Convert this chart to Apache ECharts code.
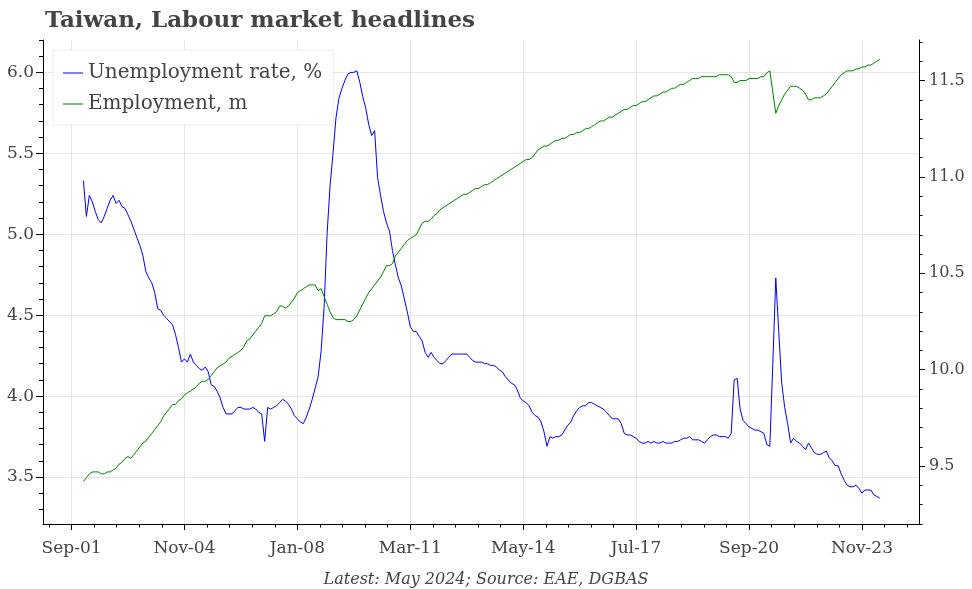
<!DOCTYPE html>
<html>
<head>
<meta charset="utf-8">
<script src="https://cdn.jsdelivr.net/npm/echarts@6.0.0/dist/echarts.min.js"></script>
<style>html,body{margin:0;padding:0;background:#fff}#c{width:972px;height:589px}</style>
</head>
<body>
<div id="c"></div>
<script>
// ---------------- data ----------------
const chartTitle = 'Taiwan, Labour market headlines';
const footnote = 'Latest: May 2024; Source: EAE, DGBAS';
const seriesNames = ['Unemployment rate, %', 'Employment, m'];
const firstMonth = 'Jan-02'; // monthly data, Jan 2002 .. May 2024

const unemployment = [
  5.33, 5.11, 5.24, 5.20, 5.14, 5.09, 5.07, 5.11, 5.16, 5.21,
  5.24, 5.19, 5.21, 5.17, 5.16, 5.12, 5.08, 5.03, 4.98, 4.93,
  4.87, 4.77, 4.73, 4.70, 4.64, 4.54, 4.53, 4.50, 4.48, 4.46,
  4.44, 4.38, 4.30, 4.21, 4.23, 4.21, 4.26, 4.21, 4.19, 4.17,
  4.16, 4.18, 4.15, 4.07, 4.06, 4.03, 3.99, 3.93, 3.89, 3.89,
  3.89, 3.91, 3.93, 3.93, 3.92, 3.92, 3.92, 3.93, 3.92, 3.90,
  3.89, 3.72, 3.93, 3.92, 3.93, 3.94, 3.96, 3.98, 3.97, 3.95,
  3.92, 3.88, 3.86, 3.84, 3.83, 3.87, 3.92, 3.98, 4.05, 4.12,
  4.28, 4.55, 5.00, 5.30, 5.50, 5.72, 5.84, 5.90, 5.95, 5.99,
  6.00, 6.00, 6.01, 5.94, 5.85, 5.78, 5.68, 5.61, 5.64, 5.35,
  5.24, 5.14, 5.07, 5.02, 4.90, 4.81, 4.73, 4.68, 4.60, 4.52,
  4.43, 4.40, 4.40, 4.37, 4.34, 4.27, 4.24, 4.27, 4.24, 4.22,
  4.20, 4.20, 4.22, 4.24, 4.26, 4.26, 4.26, 4.26, 4.26, 4.26,
  4.24, 4.22, 4.21, 4.21, 4.21, 4.20, 4.20, 4.19, 4.19, 4.18,
  4.16, 4.15, 4.12, 4.10, 4.08, 4.07, 4.04, 3.99, 3.97, 3.96,
  3.94, 3.90, 3.88, 3.87, 3.84, 3.78, 3.69, 3.75, 3.74, 3.75,
  3.75, 3.76, 3.79, 3.82, 3.84, 3.88, 3.91, 3.93, 3.94, 3.94,
  3.96, 3.96, 3.95, 3.94, 3.93, 3.92, 3.90, 3.88, 3.86, 3.86,
  3.86, 3.83, 3.77, 3.76, 3.76, 3.75, 3.74, 3.72, 3.71, 3.71,
  3.72, 3.71, 3.72, 3.71, 3.71, 3.72, 3.71, 3.71, 3.71, 3.72,
  3.72, 3.73, 3.74, 3.74, 3.75, 3.73, 3.73, 3.73, 3.72, 3.71,
  3.73, 3.75, 3.76, 3.76, 3.75, 3.75, 3.75, 3.74, 3.77, 4.10,
  4.11, 3.92, 3.85, 3.83, 3.81, 3.80, 3.79, 3.79, 3.78, 3.77,
  3.70, 3.69, 4.20, 4.73, 4.40, 4.08, 3.93, 3.83, 3.71, 3.74,
  3.72, 3.71, 3.69, 3.67, 3.71, 3.68, 3.65, 3.64, 3.64, 3.65,
  3.66, 3.62, 3.60, 3.57, 3.57, 3.52, 3.48, 3.45, 3.44, 3.44,
  3.45, 3.43, 3.40, 3.42, 3.42, 3.42, 3.39, 3.38, 3.37
];

const employment = [
  9.42, 9.44, 9.46, 9.47, 9.47, 9.47, 9.46, 9.46, 9.47, 9.47,
  9.48, 9.49, 9.51, 9.52, 9.54, 9.55, 9.54, 9.56, 9.58, 9.60,
  9.62, 9.63, 9.65, 9.67, 9.69, 9.71, 9.73, 9.76, 9.78, 9.80,
  9.82, 9.82, 9.84, 9.85, 9.87, 9.88, 9.89, 9.90, 9.91, 9.93,
  9.94, 9.94, 9.95, 9.97, 9.99, 10.01, 10.02, 10.03, 10.04, 10.06,
  10.07, 10.08, 10.09, 10.10, 10.12, 10.15, 10.16, 10.18, 10.20, 10.22,
  10.24, 10.28, 10.28, 10.28, 10.29, 10.30, 10.33, 10.33, 10.32, 10.33,
  10.35, 10.37, 10.40, 10.41, 10.42, 10.43, 10.44, 10.44, 10.44, 10.41,
  10.42, 10.38, 10.34, 10.30, 10.27, 10.26, 10.26, 10.26, 10.26, 10.25,
  10.25, 10.26, 10.28, 10.31, 10.34, 10.37, 10.40, 10.42, 10.44, 10.46,
  10.48, 10.51, 10.54, 10.54, 10.55, 10.59, 10.61, 10.63, 10.65, 10.67,
  10.68, 10.69, 10.70, 10.73, 10.76, 10.77, 10.77, 10.78, 10.80, 10.81,
  10.83, 10.84, 10.85, 10.86, 10.87, 10.88, 10.89, 10.90, 10.91, 10.91,
  10.92, 10.93, 10.94, 10.94, 10.95, 10.96, 10.96, 10.97, 10.98, 10.99,
  11.00, 11.01, 11.02, 11.03, 11.04, 11.05, 11.06, 11.07, 11.08, 11.09,
  11.09, 11.10, 11.12, 11.14, 11.15, 11.16, 11.16, 11.17, 11.18, 11.19,
  11.19, 11.20, 11.20, 11.21, 11.22, 11.22, 11.23, 11.23, 11.24, 11.25,
  11.25, 11.26, 11.27, 11.28, 11.29, 11.29, 11.30, 11.31, 11.31, 11.32,
  11.33, 11.34, 11.35, 11.35, 11.36, 11.37, 11.37, 11.38, 11.39, 11.39,
  11.40, 11.41, 11.42, 11.42, 11.43, 11.44, 11.44, 11.45, 11.46, 11.46,
  11.47, 11.48, 11.48, 11.49, 11.50, 11.51, 11.51, 11.51, 11.52, 11.52,
  11.52, 11.52, 11.52, 11.52, 11.53, 11.53, 11.53, 11.53, 11.52, 11.49,
  11.49, 11.50, 11.50, 11.50, 11.51, 11.51, 11.51, 11.51, 11.52, 11.52,
  11.54, 11.55, 11.44, 11.33, 11.37, 11.40, 11.43, 11.45, 11.47, 11.47,
  11.47, 11.46, 11.45, 11.43, 11.40, 11.40, 11.41, 11.41, 11.41, 11.42,
  11.43, 11.45, 11.47, 11.49, 11.51, 11.53, 11.54, 11.55, 11.55, 11.55,
  11.56, 11.56, 11.57, 11.57, 11.58, 11.58, 11.59, 11.60, 11.61
];

const xTickLabels = ['Sep-01', 'Nov-04', 'Jan-08', 'Mar-11', 'May-14', 'Jul-17', 'Sep-20', 'Nov-23'];
const leftTickLabels = ['3.5', '4.0', '4.5', '5.0', '5.5', '6.0'];
const rightTickLabels = ['9.5', '10.0', '10.5', '11.0', '11.5'];

// ---------------- helpers ----------------
const MONTHS = ['Jan','Feb','Mar','Apr','May','Jun','Jul','Aug','Sep','Oct','Nov','Dec'];
function labelToIndex(s) { // months since Jan 2000
  const p = s.split('-');
  return parseInt(p[1], 10) * 12 + MONTHS.indexOf(p[0]);
}
function indexToLabel(v) {
  const m = Math.round(v);
  return MONTHS[((m % 12) + 12) % 12] + '-' + String(Math.floor(m / 12)).padStart(2, '0');
}
const start = labelToIndex(firstMonth);
const xMin = 10.4, xMax = 305.2;
const yLMin = 3.21, yLMax = 6.2;
const yRMin = 9.2, yRMax = 11.71;

const xMajor = xTickLabels.map(labelToIndex);
const xStep = (xMajor[1] - xMajor[0]) / 5;
const xMinor = [];
for (let k = -10; k <= 60; k++) {
  if (k % 5 === 0) continue;
  const v = +(xMajor[0] + k * xStep).toFixed(3);
  if (v > xMin && v < xMax) xMinor.push(v);
}
const yLMajor = leftTickLabels.map(Number);
const yRMajor = rightTickLabels.map(Number);
function minors(lo, hi) {
  const out = [];
  for (let k = Math.ceil(lo * 10); k <= Math.floor(hi * 10); k++) {
    if (k % 5 !== 0) out.push(k / 10);
  }
  return out;
}
const yLMinor = minors(yLMin, yLMax);
const yRMinor = minors(yRMin, yRMax);

const FONT = 'DejaVu Serif';
const TXT = '#444444';
const GRID = '#e6e6e6';
const AX = '#000000';

function mainAxis(common, majors, tickLen, labelMargin, fmt, split, fs) {
  return Object.assign({}, common, {
    axisLine: { show: true, onZero: false, lineStyle: { color: AX, width: 1 } },
    axisTick: { show: true, customValues: majors, length: tickLen, lineStyle: { color: AX, width: 1 } },
    axisLabel: { show: true, customValues: majors, formatter: fmt, margin: labelMargin,
                 fontFamily: FONT, fontSize: fs, color: TXT, showMinLabel: true, showMaxLabel: true },
    splitLine: { show: split, lineStyle: { color: GRID, width: 1 } },
    minorTick: { show: false }, minorSplitLine: { show: false }
  });
}
function minorAxis(common, mins, tickLen) {
  return Object.assign({}, common, {
    axisLine: { show: false, onZero: false },
    axisTick: { show: true, customValues: mins, length: tickLen, lineStyle: { color: AX, width: 1 } },
    axisLabel: { show: false },
    splitLine: { show: false }
  });
}

const xCommon = { type: 'value', position: 'bottom', min: xMin, max: xMax, gridIndex: 0 };
const yLCommon = { type: 'value', position: 'left', min: yLMin, max: yLMax, gridIndex: 0 };
const yRCommon = { type: 'value', position: 'right', min: yRMin, max: yRMax, gridIndex: 0 };

const chart = echarts.init(document.getElementById('c'), null, { renderer: 'canvas' });
chart.setOption({
  animation: false,
  backgroundColor: '#ffffff',
  title: [
    { text: chartTitle, left: 40, top: 5,
      textStyle: { fontFamily: FONT, fontWeight: 'bold', fontSize: 23, color: TXT } },
    { text: footnote, left: 'center', top: 567,
      textStyle: { fontFamily: FONT, fontStyle: 'italic', fontWeight: 'normal', fontSize: 16, color: TXT } }
  ],
  legend: {
    data: seriesNames,
    orient: 'vertical',
    left: 53, top: 50,
    padding: [12, 11, 10, 10],
    itemGap: 9,
    itemWidth: 20, itemHeight: 1,
    icon: 'rect',
    backgroundColor: '#ffffff',
    borderColor: '#ececec', borderWidth: 1,
    textStyle: { fontFamily: FONT, fontSize: 20, color: TXT, lineHeight: 22 }
  },
  grid: { left: 43, right: 53, top: 40, bottom: 65, containLabel: false },
  xAxis: [
    mainAxis(xCommon, xMajor, 6, 16, indexToLabel, true, 17),
    minorAxis(xCommon, xMinor, 3.5)
  ],
  yAxis: [
    mainAxis(yLCommon, yLMajor, 7, 9, v => v.toFixed(1), true, 17),
    minorAxis(yLCommon, yLMinor, 4),
    mainAxis(yRCommon, yRMajor, 6, 10, v => v.toFixed(1), false, 16),
    minorAxis(yRCommon, yRMinor, 3.5)
  ],
  series: [
    { name: seriesNames[0], type: 'line', xAxisIndex: 0, yAxisIndex: 0,
      data: unemployment.map((v, i) => [start + i, v]),
      showSymbol: false, symbol: 'none', smooth: false,
      lineStyle: { color: '#0000ff', width: 1 }, itemStyle: { color: '#0000ff' } },
    { name: seriesNames[1], type: 'line', xAxisIndex: 0, yAxisIndex: 2,
      data: employment.map((v, i) => [start + i, v]),
      showSymbol: false, symbol: 'none', smooth: false,
      lineStyle: { color: '#008000', width: 1 }, itemStyle: { color: '#008000' } }
  ]
});
</script>
</body>
</html>
